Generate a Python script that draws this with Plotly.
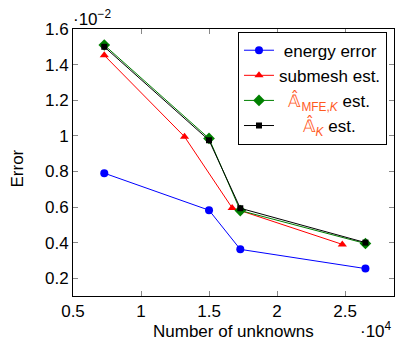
import plotly.graph_objects as go

# Data (x in units of 1e4, y in units of 1e-2)
energy_x = [0.73, 1.50, 1.73, 2.65]
energy_y = [0.79, 0.582, 0.362, 0.254]
sub_x = [0.73, 1.32, 1.67, 2.48]
sub_y = [1.452, 0.995, 0.595, 0.39]
mfe_x = [0.73, 1.50, 1.73, 2.65]
mfe_y = [1.51, 0.985, 0.58, 0.395]
ak_x = [0.73, 1.50, 1.73, 2.65]
ak_y = [1.50, 0.975, 0.593, 0.40]

x_ticks = [0.5, 1, 1.5, 2, 2.5]
x_tick_labels = ["0.5", "1", "1.5", "2", "2.5"]
y_ticks = [0.2, 0.4, 0.6, 0.8, 1.0, 1.2, 1.4, 1.6]
y_tick_labels = ["0.2", "0.4", "0.6", "0.8", "1", "1.2", "1.4", "1.6"]

NB = "\u00a0"
ENERGY = NB + "energy error"
SUB = "submesh est."
HAT = NB * 2 + "<span style='color:#ff5a1f'>𝔸\u0302<sub>MFE,<i>K</i></sub></span> est."
HATK = NB * 5 + "<span style='color:#ff5a1f'>𝔸\u0302<sub><i>K</i></sub></span> est."

FS = 17

fig = go.Figure()
fig.add_trace(go.Scatter(x=energy_x, y=energy_y, mode="lines+markers", name=ENERGY,
                         line=dict(color="#0000ff", width=1), marker=dict(symbol="circle", size=8, color="#0000ff")))
fig.add_trace(go.Scatter(x=sub_x, y=sub_y, mode="lines+markers", name=SUB,
                         line=dict(color="#ff0000", width=1), marker=dict(symbol="triangle-up", size=8, color="#ff0000")))
fig.add_trace(go.Scatter(x=mfe_x, y=mfe_y, mode="lines+markers", name=HAT,
                         line=dict(color="#008000", width=1), marker=dict(symbol="diamond", size=9, color="#008000")))
fig.add_trace(go.Scatter(x=ak_x, y=ak_y, mode="lines+markers", name=HATK,
                         line=dict(color="#000000", width=1), marker=dict(symbol="square", size=6, color="#000000")))

axis_common = dict(showline=True, linecolor="black", linewidth=1, mirror="ticks", ticks="inside",
                   ticklen=5, tickcolor="#888", showgrid=False, zeroline=False,
                   tickfont=dict(size=FS, color="black"))

fig.update_xaxes(range=[0.5, 2.86], tickvals=x_ticks, ticktext=x_tick_labels, **axis_common)
fig.update_yaxes(range=[0.1, 1.6], tickvals=y_ticks, ticktext=y_tick_labels, **axis_common)

# axis titles
fig.add_annotation(text="Number of unknowns", xref="paper", yref="paper", x=0.5, y=0,
                   xanchor="center", yanchor="middle", yshift=-35, showarrow=False,
                   font=dict(size=FS, color="black"))
fig.add_annotation(text="Error", xref="paper", yref="paper", x=0, y=0.5,
                   xanchor="center", yanchor="middle", xshift=-56, yshift=-6, textangle=-90,
                   showarrow=False, font=dict(size=FS, color="black"))

# exponent labels
fig.add_annotation(text="·10<sup>−2</sup>", xref="paper", yref="paper", x=0, y=1.0,
                   xanchor="left", yanchor="bottom", showarrow=False, font=dict(size=FS, color="black"),
                   xshift=-2, yshift=-2)
fig.add_annotation(text="·10<sup>4</sup>", xref="paper", yref="paper", x=1, y=0,
                   xanchor="right", yanchor="middle", showarrow=False, font=dict(size=FS, color="black"),
                   yshift=-34)

fig.update_layout(
    width=396, height=342,
    margin=dict(l=73, r=2, t=29, b=46, autoexpand=False),
    paper_bgcolor="white", plot_bgcolor="white",
    font=dict(family="Liberation Sans, Arial, sans-serif", size=FS, color="black"),
    showlegend=True,
    legend=dict(x=0.514, y=0.99, xanchor="left", yanchor="top", bgcolor="white",
                bordercolor="black", borderwidth=1, font=dict(size=FS, color="black"),
                tracegroupgap=0, itemwidth=30),
)

fig.write_html("out.html", config={"displayModeBar": False},
               post_script="document.body.style.margin='0';document.body.style.overflow='hidden';")
